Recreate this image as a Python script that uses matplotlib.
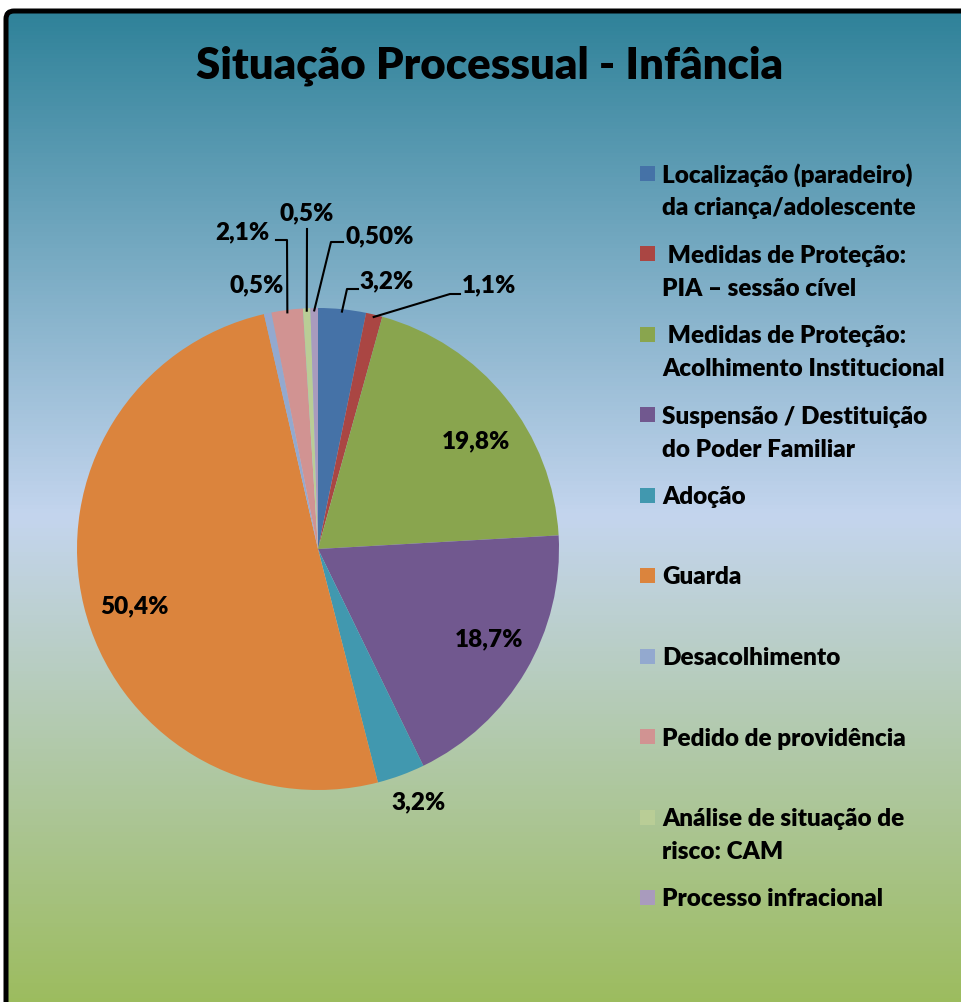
import numpy as np
import matplotlib.pyplot as plt
from matplotlib.colors import LinearSegmentedColormap
from matplotlib.patches import FancyBboxPatch, Rectangle

plt.rcParams['font.family'] = ['Lato', 'DejaVu Sans']

title = "Situação Processual - Infância"
categories = [
    "Localização (paradeiro)\nda criança/adolescente",
    " Medidas de Proteção:\nPIA – sessão cível",
    " Medidas de Proteção:\nAcolhimento Institucional",
    "Suspensão / Destituição\ndo Poder Familiar",
    "Adoção",
    "Guarda",
    "Desacolhimento",
    "Pedido de providência",
    "Análise de situação de\nrisco: CAM",
    "Processo infracional",
]
values = [3.2, 1.1, 19.8, 18.7, 3.2, 50.4, 0.5, 2.1, 0.5, 0.5]
pct_labels = ["3,2%", "1,1%", "19,8%", "18,7%", "3,2%", "50,4%", "0,5%", "2,1%", "0,5%", "0,50%"]
colors = ["#4572A7", "#AA4643", "#89A54E", "#71588F", "#4198AF",
          "#DB843D", "#93A9CF", "#D19392", "#B9CD96", "#A99BBD"]

W, H = 961, 1002
WEIGHT = "heavy"


def px(x, y):
    # pixel coords (y down) -> axes coords (y up)
    return x, H - y


fig = plt.figure(figsize=(W / 100, H / 100), dpi=100)
ax = fig.add_axes([0, 0, 1, 1])
fig.patch.set_facecolor("white")

# background gradient
cmap = LinearSegmentedColormap.from_list(
    "bg", [(0, "#2F8299"), (0.5, "#C4D5EE"), (1.0, "#9BBB59")])
grad = np.linspace(0, 1, 256).reshape(-1, 1)
ax.imshow(grad, cmap=cmap, aspect="auto", extent=[6, W + 20, -20, H - 11],
          origin="upper", zorder=0)

# frame (only top and left edges visible)
frame = FancyBboxPatch((6, -60), W + 100, H - 11 + 60,
                       boxstyle="round,pad=0,rounding_size=8",
                       facecolor="none", edgecolor="black", linewidth=3.6, zorder=1)
ax.add_patch(frame)

cx, cy = px(318, 549)
r = 241
wedges, _ = ax.pie(values, colors=colors, startangle=90, counterclock=False,
                   center=(cx, cy), radius=r,
                   wedgeprops=dict(linewidth=0), frame=True)
for w in wedges:
    w.set_zorder(2)

ax.set_xlim(0, W)
ax.set_ylim(0, H)
ax.set_aspect("equal")
ax.axis("off")

# data label positions (pixel) and leader lines
label_pos = [(387, 281), (489, 285), (476, 441), (489, 639), (419, 802),
             (134, 606), (257, 285), (242, 232), (307, 213), (380, 236)]
leaders = {0: [(347, 289), (358, 289)],
           1: [(450, 294), (460, 294)],
           7: [(287, 240), (276, 240)],
           8: [(307, 229)],
           9: [(331, 242), (343, 242)]}

for i, (w, lab) in enumerate(zip(wedges, pct_labels)):
    x, y = px(*label_pos[i])
    ax.text(x, y, lab, ha="center", va="center", fontsize=17.5,
            fontweight=WEIGHT, color="black", zorder=4)
    if i in leaders:
        mid = np.deg2rad((w.theta1 + w.theta2) / 2)
        sx = cx + r * 0.99 * np.cos(mid)
        sy = cy + r * 0.99 * np.sin(mid)
        xs = [sx] + [px(*p)[0] for p in leaders[i]]
        ys = [sy] + [px(*p)[1] for p in leaders[i]]
        ax.plot(xs, ys, color="black", linewidth=1.5, zorder=3)

# title
tx, ty = px(490, 66)
ax.text(tx, ty, title, ha="center", va="center", fontsize=31.5,
        fontweight=WEIGHT, color="black", zorder=4)

# legend
for i, (lab, col) in enumerate(zip(categories, colors)):
    ly = 173 + i * 80.5
    x0, y0 = px(640, ly + 7.5)
    ax.add_patch(Rectangle((x0, y0), 15, 15, facecolor=col, edgecolor="none", zorder=4))
    tx, ty = px(662, ly)
    ax.text(tx, ty, lab.split("\n")[0], ha="left", va="center_baseline", fontsize=17.5,
            fontweight=WEIGHT, color="black", zorder=4)
    if "\n" in lab:
        tx, ty = px(662, ly + 33)
        ax.text(tx, ty, lab.split("\n")[1], ha="left", va="center_baseline", fontsize=17.5,
                fontweight=WEIGHT, color="black", zorder=4)

fig.savefig("out.png", dpi=100)
